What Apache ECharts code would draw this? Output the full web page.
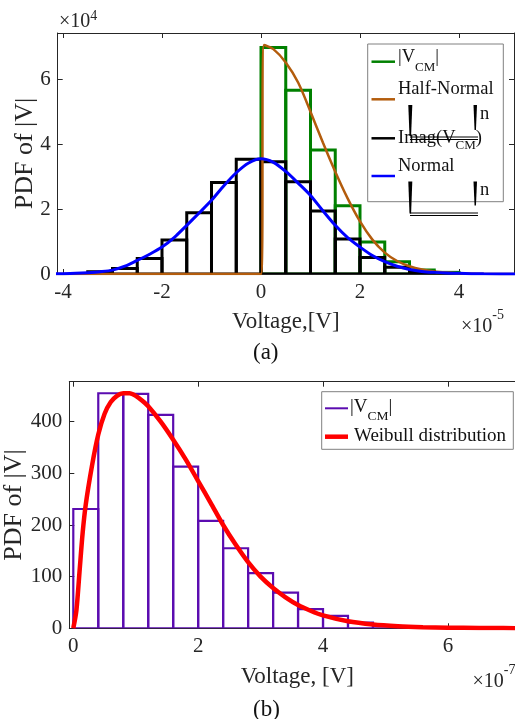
<!DOCTYPE html>
<html>
<head>
<meta charset="utf-8">
<script src="https://cdn.jsdelivr.net/npm/echarts@6/dist/echarts.min.js"></script>
<style>
  html, body { margin: 0; padding: 0; background: #fff; }
  #main { width: 515px; height: 719px; }
</style>
</head>
<body>
<div id="main"></div>
<script>
// (a) histograms, x in 1e-5 V, y in 1e4
const absBinStart = [0, 0.5, 1, 1.5, 2, 2.5, 3, 3.5];
const absCounts = [6.98, 5.66, 3.82, 2.10, 0.99, 0.38, 0.12, 0.05];
const imagBinStart = [-3.5, -3, -2.5, -2, -1.5, -1, -0.5, 0, 0.5, 1, 1.5, 2, 2.5, 3];
const imagCounts = [0.07, 0.17, 0.48, 1.05, 1.89, 2.82, 3.54, 3.46, 2.84, 1.94, 1.08, 0.51, 0.21, 0.07];
const binWidthA = 0.5;

const halfNormX = [-4.2, 0, 0.06, 0.25, 0.5, 0.75, 1.0, 1.25, 1.5, 1.75, 2.0, 2.25, 2.5, 2.75, 3.0, 3.25, 3.5, 3.75, 4.0, 4.5, 5.3];
const halfNormY = [0, 0, 7.06, 6.93, 6.52, 5.9, 5.0, 4.05, 3.15, 2.33, 1.62, 1.06, 0.66, 0.40, 0.24, 0.14, 0.08, 0.045, 0.02, 0.005, 0];
const normX = [-4.25, -4, -3.75, -3.5, -3.25, -3, -2.75, -2.5, -2.25, -2, -1.75, -1.5, -1.25, -1, -0.75, -0.5, -0.25, 0,
  0.25, 0.5, 0.75, 1, 1.25, 1.5, 1.75, 2, 2.25, 2.5, 2.75, 3, 3.25, 3.5, 3.75, 4, 4.5, 5.25];
const normY = [0.005, 0.01, 0.02, 0.04, 0.07, 0.12, 0.24, 0.42, 0.61, 0.83, 1.13, 1.5, 1.88, 2.27, 2.72, 3.12, 3.42, 3.55,
  3.44, 3.16, 2.8, 2.42, 1.95, 1.5, 1.12, 0.83, 0.57, 0.38, 0.24, 0.14, 0.08, 0.05, 0.03, 0.02, 0.005, 0];

// (b) histogram, x in 1e-7 V
const vcmBinStart = [0, 0.4, 0.8, 1.2, 1.6, 2.0, 2.4, 2.8, 3.2, 3.6, 4.0, 4.4, 4.8, 5.2, 5.6];
const vcmCounts = [231, 455, 454, 413, 313, 208, 155, 107, 69, 37, 24, 11, 5, 2.5, 1];
const binWidthB = 0.4;

const weibX = [0, 0.05, 0.1, 0.15, 0.2, 0.3, 0.4, 0.5, 0.6, 0.7, 0.8, 0.9, 1.0, 1.1, 1.2, 1.4, 1.6, 1.8, 2.0, 2.2, 2.4, 2.6,
  2.8, 3.0, 3.2, 3.4, 3.6, 3.8, 4.0, 4.4, 4.8, 5.2, 5.6, 6.0, 6.5, 7.4];
const weibY = [0, 35, 110, 185, 240, 315, 375, 415, 438, 450, 455, 455, 450, 441, 430, 400, 365, 327, 285, 243, 200, 162,
  128, 100, 78, 60, 45, 34, 25, 13.5, 7.3, 4, 2.2, 1.2, 0.6, 0.2];

const aXTicks = [-4, -2, 0, 2, 4];
const aYTicks = [0, 2, 4, 6];
const bXTicks = [0, 2, 4, 6];
const bYTicks = [0, 100, 200, 300, 400];

const FONT = '"Liberation Serif", "Times New Roman", serif';
const AX = '#262626';

const cv = document.createElement('canvas').getContext('2d');
function measure(t, size) {
  cv.font = size + 'px ' + FONT;
  return cv.measureText(t).width;
}
// text pieces laid left to right on a baseline (for sub/superscripts)
function textRun(x, base, parts, color) {
  const out = [];
  let cx = x;
  parts.forEach(function (p) {
    out.push({
      type: 'text', x: cx, y: base + (p.dy || 0) - 0.305 * p.s, z: 100,
      style: { text: p.t, fontSize: p.s, fontFamily: FONT, fill: color || '#111', align: 'left', verticalAlign: 'middle' }
    });
    cx += measure(p.t, p.s);
  });
  return out;
}
function seg(x1, y1, x2, y2, color, w) {
  return { type: 'line', z: 100, shape: { x1: x1, y1: y1, x2: x2, y2: y2 }, style: { stroke: color, lineWidth: w } };
}
function blk(x, y, w, h) {
  return { type: 'polygon', z: 101, shape: { points: [[x, y], [x + w, y], [x + w * 0.7, y + h], [x + w * 0.3, y + h]] }, style: { fill: '#000' } };
}

function bins(starts, counts, width) {
  return starts.map(function (s, i) { return [s, s + width, counts[i]]; });
}
function histSeries(data, color, lw, xi, yi) {
  return {
    type: 'custom', xAxisIndex: xi, yAxisIndex: yi, data: data, clip: true,
    renderItem: function (params, api) {
      const p0 = api.coord([api.value(0), api.value(2)]);
      const p1 = api.coord([api.value(1), 0]);
      return {
        type: 'rect',
        shape: { x: p0[0], y: p0[1], width: p1[0] - p0[0], height: p1[1] - p0[1] },
        style: { fill: 'none', stroke: color, lineWidth: lw }
      };
    }
  };
}
function lineSeries(xs, ys, color, lw, xi, yi) {
  return {
    type: 'line', xAxisIndex: xi, yAxisIndex: yi, showSymbol: false, smooth: 0.3,
    data: xs.map(function (x, i) { return [x, ys[i]]; }),
    lineStyle: { color: color, width: lw }, silent: true
  };
}

function xAx(grid, min, max, ticks, pos, labels, name, gap) {
  return {
    type: 'value', gridIndex: grid, position: pos, min: min, max: max,
    axisLine: { show: true, onZero: false, lineStyle: { color: AX, width: 1 } },
    axisTick: { show: true, inside: true, length: 5, customValues: ticks, lineStyle: { color: AX } },
    axisLabel: { show: labels, customValues: ticks, margin: 8, color: AX, fontSize: 21, fontFamily: FONT },
    splitLine: { show: false },
    name: labels ? name : '', nameLocation: 'middle', nameGap: gap, nameMoveOverlap: false,
    nameTextStyle: { color: AX, fontSize: 23, fontFamily: FONT, verticalAlign: 'middle' }
  };
}
function yAx(grid, min, max, ticks, pos, labels, name, gap) {
  return {
    type: 'value', gridIndex: grid, position: pos, min: min, max: max,
    axisLine: { show: true, onZero: false, lineStyle: { color: AX, width: 1 } },
    axisTick: { show: true, inside: true, length: 5, customValues: ticks, lineStyle: { color: AX } },
    axisLabel: { show: labels, customValues: ticks, margin: 7, color: AX, fontSize: 21, fontFamily: FONT },
    splitLine: { show: false },
    name: labels ? name : '', nameLocation: 'middle', nameGap: gap, nameMoveOverlap: false,
    nameTextStyle: { color: AX, fontSize: 26, fontFamily: FONT, verticalAlign: 'middle' }
  };
}

const chart = echarts.init(document.getElementById('main'));

let graphics = [];
// legend (a)
graphics.push({ type: 'rect', z: 99, shape: { x: 367.7, y: 44, width: 135.6, height: 157.7 }, style: { fill: '#fff', stroke: '#808080', lineWidth: 1 } });
graphics.push(seg(371.5, 61.7, 395, 61.7, '#008000', 2.5));
graphics = graphics.concat(textRun(398, 63, [{ t: '|V', s: 18.5 }, { t: 'CM', s: 13, dy: 9 }, { t: '|', s: 18.5 }]));
graphics.push(seg(371.5, 99.3, 395, 99.3, '#b35c0c', 2.5));
graphics = graphics.concat(textRun(398, 95, [{ t: 'Half-Normal', s: 18.5 }]));
graphics.push(blk(408.3, 105, 4, 31), blk(473.5, 105, 3.5, 25));
graphics = graphics.concat(textRun(480, 120, [{ t: 'n', s: 18.5 }]));
graphics.push(seg(371.5, 138.3, 395, 138.3, '#000', 2.5));
graphics = graphics.concat(textRun(398, 144, [{ t: 'Imag(V', s: 18.5 }, { t: 'CM', s: 13, dy: 6 }, { t: ')', s: 18.5 }]));
graphics.push(seg(410, 137, 478, 137, '#000', 1), seg(410, 139.5, 478, 139.5, '#000', 1));
graphics.push(seg(371.5, 176, 395, 176, '#0000ff', 2.5));
graphics = graphics.concat(textRun(398, 171.7, [{ t: 'Normal', s: 18.5 }]));
graphics.push(blk(408.3, 181.5, 4, 32), blk(473.5, 181.5, 3.5, 24));
graphics = graphics.concat(textRun(480, 196, [{ t: 'n', s: 18.5 }]));
graphics.push(seg(410, 213, 478, 213, '#000', 1), seg(410, 215.5, 478, 215.5, '#000', 1));
// legend (b)
graphics.push({ type: 'rect', z: 99, shape: { x: 321.7, y: 391.7, width: 191.6, height: 57.6 }, style: { fill: '#fff', stroke: '#808080', lineWidth: 1 } });
graphics.push(seg(325, 408.3, 348, 408.3, '#5b0cb0', 2));
graphics = graphics.concat(textRun(350, 413, [{ t: '|V', s: 19 }, { t: 'CM', s: 13.5, dy: 8 }, { t: '|', s: 19 }]));
graphics.push(seg(325, 436.7, 348, 436.7, '#ff0000', 4.5));
graphics = graphics.concat(textRun(354, 442.3, [{ t: 'Weibull distribution', s: 19 }]));
// exponents and captions
graphics = graphics.concat(textRun(59, 28.3, [{ t: '×10', s: 20 }, { t: '4', s: 14, dy: -8 }], AX));
graphics = graphics.concat(textRun(461, 333.3, [{ t: '×10', s: 20 }, { t: '-5', s: 14, dy: -14 }], AX));
graphics = graphics.concat(textRun(472.5, 688.3, [{ t: '×10', s: 20 }, { t: '-7', s: 14, dy: -14 }], AX));
graphics = graphics.concat(textRun(253, 360, [{ t: '(a)', s: 23 }], '#111'));
graphics = graphics.concat(textRun(253, 717, [{ t: '(b)', s: 23 }], '#111'));

const option = {
  animation: false,
  backgroundColor: '#fff',
  grid: [
    { left: 57.7, top: 33, width: 456.3, height: 241, outerBoundsMode: 'none', containLabel: false },
    { left: 69.3, top: 381.7, width: 456, height: 246.6, outerBoundsMode: 'none', containLabel: false }
  ],
  xAxis: [
    xAx(0, -4.107, 5.111, aXTicks, 'bottom', true, 'Voltage,[V]', 48),
    xAx(0, -4.107, 5.111, aXTicks, 'top', false, '', 0),
    xAx(1, -0.064, 7.24, bXTicks, 'bottom', true, 'Voltage, [V]', 48.5),
    xAx(1, -0.064, 7.24, bXTicks, 'top', false, '', 0)
  ],
  yAxis: [
    yAx(0, 0, 7.427, aYTicks, 'left', true, 'PDF of |V|', 33),
    yAx(0, 0, 7.427, aYTicks, 'right', false, '', 0),
    yAx(1, 0, 477.4, bYTicks, 'left', true, 'PDF of |V|', 55)
  ],
  series: [
    histSeries(bins(absBinStart, absCounts, binWidthA), '#008000', 3, 0, 0),
    lineSeries(halfNormX, halfNormY, '#b35c0c', 2.5, 0, 0),
    histSeries(bins(imagBinStart, imagCounts, binWidthA), '#000000', 3, 0, 0),
    lineSeries(normX, normY, '#0000ff', 3, 0, 0),
    histSeries(bins(vcmBinStart, vcmCounts, binWidthB), '#5b0cb0', 2.2, 2, 2),
    lineSeries(weibX, weibY, '#ff0000', 4.5, 2, 2)
  ],
  graphic: graphics
};
chart.setOption(option);
</script>
</body>
</html>
